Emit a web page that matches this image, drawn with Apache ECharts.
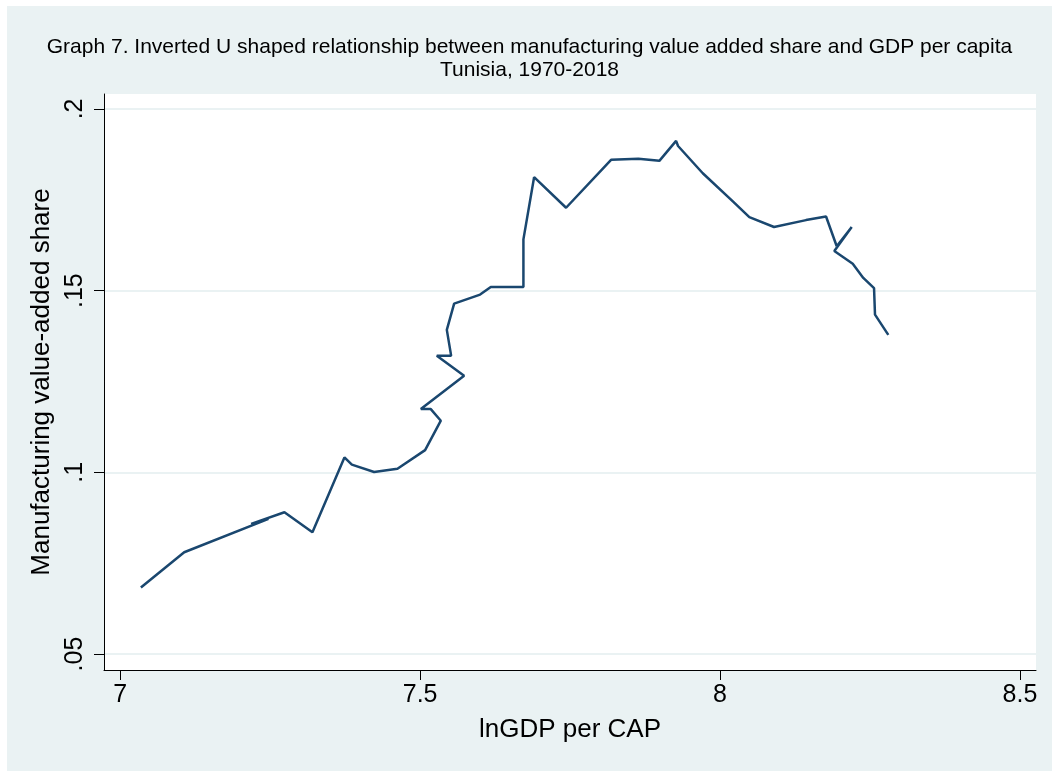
<!DOCTYPE html>
<html>
<head>
<meta charset="utf-8">
<script src="https://cdn.jsdelivr.net/npm/echarts@6/dist/echarts.min.js"></script>
<style>
  html, body { margin: 0; padding: 0; background: #fff; }
  #main { position: absolute; left: 7px; top: 6px; width: 1045px; height: 765px; }
</style>
</head>
<body>
<div id="main"></div>
<script>
// Tunisia 1970-2018, points in year order (path is not sorted by x)
var lnGdp = [7.0345, 7.1067, 7.2472, 7.2183, 7.2738, 7.3205, 7.3738, 7.3862, 7.4233, 7.4622,
  7.5083, 7.5345, 7.5178, 7.5012, 7.5733, 7.5278, 7.5517, 7.5445, 7.5567, 7.6,
  7.6178, 7.6722, 7.6722, 7.69, 7.7433, 7.8183, 7.8638, 7.8988, 7.9267, 7.93,
  7.9712, 8.0222, 8.0488, 8.09, 8.1433, 8.1767, 8.1945, 8.2195, 8.1905, 8.2212,
  8.2388, 8.2567, 8.2583, 8.2805];
var mvaShare = [0.0683, 0.0780, 0.0872, 0.0858, 0.0890, 0.0835, 0.1041, 0.1021, 0.1001, 0.1010,
  0.1061, 0.1142, 0.1174, 0.1174, 0.1266, 0.1321, 0.1321, 0.1392, 0.1464, 0.1489,
  0.1510, 0.1510, 0.1641, 0.1812, 0.1728, 0.1860, 0.1863, 0.1857, 0.1912, 0.1898,
  0.1823, 0.1744, 0.1702, 0.1675, 0.1694, 0.1704, 0.1622, 0.1675, 0.1609, 0.1574,
  0.1535, 0.1507, 0.1434, 0.1378];

var xTicks = [7, 7.5, 8, 8.5];
var xTickLabels = ['7', '7.5', '8', '8.5'];
var yTicks = [0.05, 0.1, 0.15, 0.2];
var yTickLabels = ['.05', '.1', '.15', '.2'];

var font = "Arial, 'Liberation Sans', sans-serif";
var navy = '#1A476F';

var points = [];
for (var i = 0; i < lnGdp.length; i++) {
  points.push([lnGdp[i], mvaShare[i]]);
}

function pick(ticks, labels) {
  return function (v) {
    for (var k = 0; k < ticks.length; k++) {
      if (Math.abs(ticks[k] - v) < 1e-9) return labels[k];
    }
    return '';
  };
}

var chart = echarts.init(document.getElementById('main'));
var option = {
  backgroundColor: '#EAF2F3',
  animation: false,
  title: {
    text: 'Graph 7. Inverted U shaped relationship between manufacturing value added share and GDP per capita\nTunisia, 1970-2018',
    left: 'center',
    top: 30,
    padding: 0,
    textStyle: {
      fontFamily: font,
      fontSize: 21,
      fontWeight: 'normal',
      color: '#000',
      lineHeight: 23
    }
  },
  grid: {
    left: 97,
    right: 16,
    top: 88,
    bottom: 101,
    show: true,
    backgroundColor: '#fff',
    borderWidth: 0
  },
  xAxis: {
    type: 'value',
    min: 6.973,
    max: 8.5267,
    name: 'lnGDP per CAP',
    nameLocation: 'middle',
    nameGap: 47,
    nameTextStyle: { fontFamily: font, fontSize: 26, color: '#000' },
    axisLine: { show: true, onZero: false, lineStyle: { color: '#000', width: 1 } },
    axisTick: { show: true, length: 10, customValues: xTicks, lineStyle: { color: '#000' } },
    axisLabel: {
      customValues: xTicks,
      formatter: pick(xTicks, xTickLabels),
      fontFamily: font, fontSize: 25, color: '#000', margin: 13
    },
    splitLine: { show: false }
  },
  yAxis: {
    type: 'value',
    min: 0.0456,
    max: 0.2041,
    name: 'Manufacturing value-added share',
    nameLocation: 'middle',
    nameGap: 35,
    nameTextStyle: { fontFamily: font, fontSize: 26, color: '#000' },
    axisLine: { show: true, onZero: false, lineStyle: { color: '#000', width: 1 } },
    axisTick: { show: true, length: 10, customValues: yTicks, lineStyle: { color: '#000' } },
    axisLabel: {
      customValues: yTicks,
      formatter: pick(yTicks, yTickLabels),
      rotate: 90,
      fontFamily: font, fontSize: 25, color: '#000', margin: 16
    },
    splitLine: { show: true, lineStyle: { color: '#EAF2F3', width: 2 } }
  },
  series: [{
    type: 'line',
    data: points,
    showSymbol: false,
    symbol: 'none',
    lineStyle: { color: navy, width: 2.5 },
    z: 3
  }]
};
chart.setOption(option);
</script>
</body>
</html>
